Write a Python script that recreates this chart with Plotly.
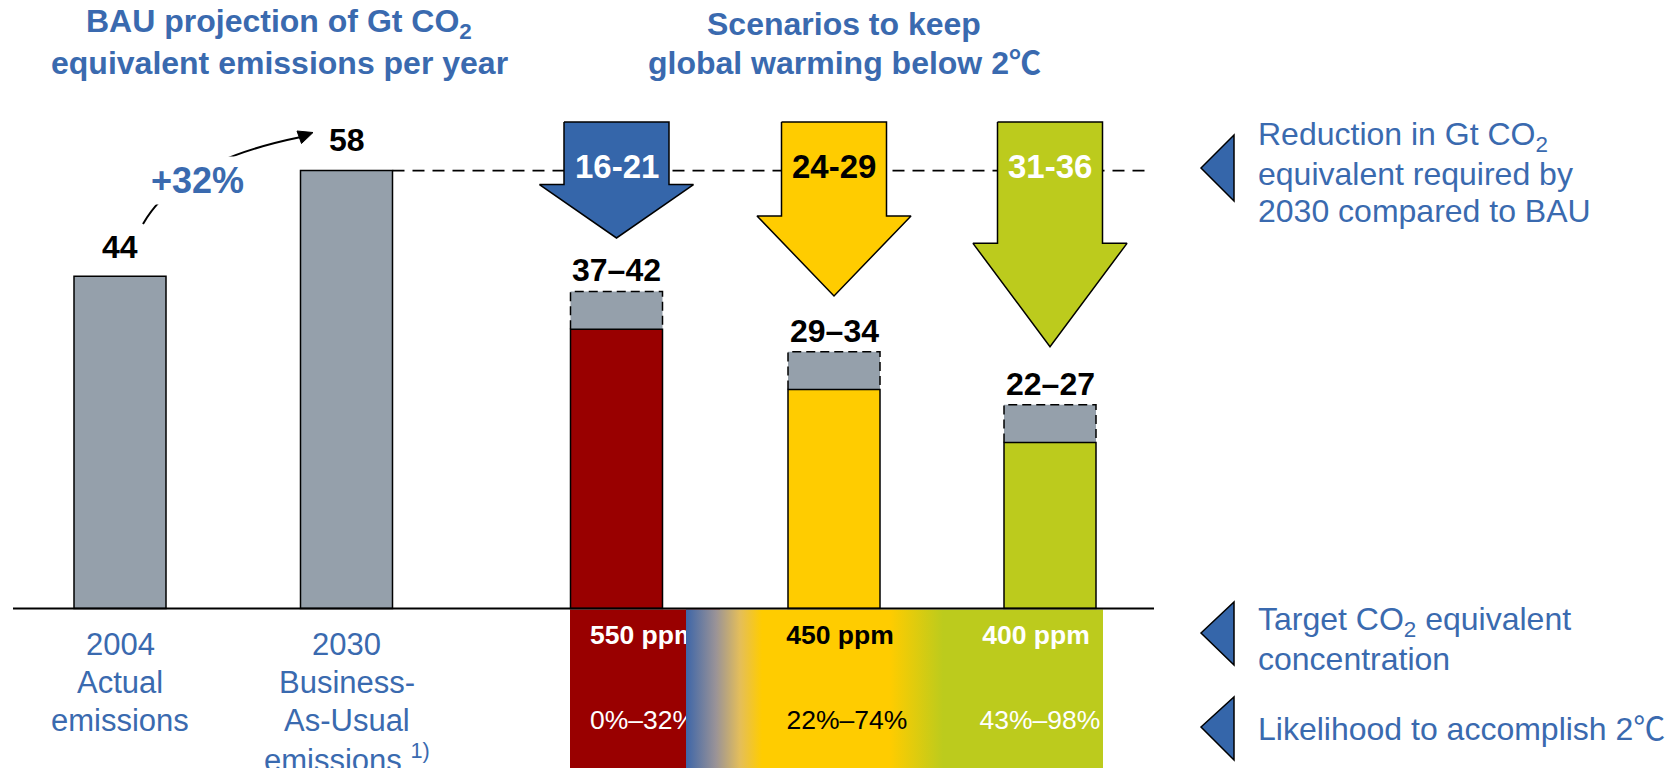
import plotly.graph_objects as go

# ---------------- data ----------------
bau_years = ["2004", "2030"]
bau_label_lines = [["2004", "Actual", "emissions"],
                   ["2030", "Business-", "As-Usual", "emissions <sup>1)</sup>"]]
bau_values = [44, 58]

scenario_ppm = ["550 ppm", "450 ppm", "400 ppm"]
scenario_low = [37, 29, 22]
scenario_high = [42, 34, 27]
likelihood = ["0%–32%", "22%–74%", "43%–98%"]

# ---------------- layout constants ----------------
W, H = 1668, 768
Y0, K = 608.5, 7.55          # baseline pixel row and pixels per Gt
BAR_X = [120, 346.5, 616.5, 834, 1050]
BAR_W = 92

GREY = "#95A0AB"
SCEN_COLORS = ["#990000", "#FFCC00", "#BCCB1D"]
ARROW_COLORS = ["#3566AA", "#FFCC00", "#BCCB1D"]
ARROW_TEXT = ["white", "black", "white"]
BAND_TEXT = ["white", "black", "white"]
BLUE_TXT = "#3A6AAF"
FONT = "Liberation Sans, Arial, Noto Sans CJK SC, sans-serif"


def yv(py):
    return (Y0 - py) / K


def yp(py):
    return 1 - py / H


fig = go.Figure()

# BAU bars
fig.add_bar(x=BAR_X[:2], y=bau_values, width=BAR_W,
            marker=dict(color=GREY, line=dict(color="black", width=1.5)),
            hoverinfo="skip")
# uncertainty range (grey) of scenarios
fig.add_bar(x=BAR_X[2:], y=[h - l for l, h in zip(scenario_low, scenario_high)],
            base=scenario_low, width=BAR_W,
            marker=dict(color=GREY, line=dict(width=0)), hoverinfo="skip")
# scenario bars
fig.add_bar(x=BAR_X[2:], y=scenario_low, width=BAR_W,
            marker=dict(color=SCEN_COLORS, line=dict(color="black", width=1.5)),
            hoverinfo="skip")

# dashed outline of grey ranges
dx, dy = [], []
for cx, lo, hi in zip(BAR_X[2:], scenario_low, scenario_high):
    x0, x1 = cx - BAR_W / 2, cx + BAR_W / 2
    dx += [x0, x0, x1, x1, None]
    dy += [lo, hi, hi, lo, None]
fig.add_scatter(x=dx, y=dy, mode="lines",
                line=dict(color="black", width=1.5, dash="9px,5px"), hoverinfo="skip")

# dashed BAU reference line
bau = bau_values[1]
fig.add_scatter(x=[BAR_X[1] + BAR_W / 2, 1148], y=[bau, bau], mode="lines",
                line=dict(color="black", width=1.8, dash="12px,8px"), hoverinfo="skip")

# block arrows for reductions
T = yv(122)
for i, (cx, hi, lo) in enumerate(zip(BAR_X[2:], scenario_high, scenario_low)):
    red_lo, red_hi = bau - hi, bau - lo
    L = red_lo * 0.96
    sh, hh = 52.5, 77
    yb = T - 0.54 * L
    xs = [cx - sh, cx + sh, cx + sh, cx + hh, cx, cx - hh, cx - sh, cx - sh]
    ys = [T, T, yb, yb, T - L, yb, yb, T]
    fig.add_scatter(x=xs, y=ys, mode="lines", fill="toself",
                    fillcolor=ARROW_COLORS[i], line=dict(color="black", width=1.5),
                    hoverinfo="skip")
    fig.add_annotation(x=cx, y=yp(167), xref="x", yref="paper",
                       text=f"<b>{red_lo}-{red_hi}</b>", showarrow=False,
                       font=dict(family=FONT, size=33, color=ARROW_TEXT[i]),
                       xanchor="center", yanchor="middle")

# bottom band: red block with its text, then gradient overlay
band_top, band_bot = yv(609.5), yv(800)
fig.add_scatter(x=[570, 720, 720, 570], y=[band_top, band_top, band_bot, band_bot],
                mode="lines", fill="toself", fillcolor=SCEN_COLORS[0],
                line=dict(width=0), hoverinfo="skip")
ROW1, ROW2 = yv(647 - 9.3), yv(732 - 9.3)
fig.add_scatter(x=[590, 590], y=[ROW1, ROW2], mode="text",
                text=[f"<b>{scenario_ppm[0]}</b>", likelihood[0]],
                textposition="middle right",
                textfont=dict(family=FONT, size=26.5, color=BAND_TEXT[0]), hoverinfo="skip")
g0, g1 = 686, 1103
stops = [(686, "#3E66A8"), (716, "#9A9397"), (740, "#E4BE5A"), (762, "#FFCC00"),
         (890, "#FFCC00"), (943, "#BCCB1D"), (1103, "#BCCB1D")]
fig.add_scatter(x=[g0, g1, g1, g0], y=[band_top, band_top, band_bot, band_bot],
                mode="lines", fill="toself",
                fillgradient=dict(type="horizontal", start=g0, stop=g1,
                                  colorscale=[[(p - g0) / (g1 - g0), c] for p, c in stops]),
                line=dict(width=0), hoverinfo="skip")
for i, (cxp, cxl) in enumerate([(840, 847), (1036, 1040)], start=1):
    fig.add_scatter(x=[cxp, cxl], y=[ROW1, ROW2], mode="text",
                    text=[f"<b>{scenario_ppm[i]}</b>", likelihood[i]],
                    textposition="middle center",
                    textfont=dict(family=FONT, size=26.5, color=BAND_TEXT[i]),
                    hoverinfo="skip")

# value labels
for cx, v, shift in zip(BAR_X[:2], bau_values, [29, 31]):
    fig.add_annotation(x=cx, y=v, text=f"<b>{v}</b>", showarrow=False,
                       yshift=shift, yanchor="middle",
                       font=dict(family=FONT, size=32, color="black"))
for cx, lo, hi in zip(BAR_X[2:], scenario_low, scenario_high):
    fig.add_annotation(x=cx, y=hi, text=f"<b>{lo}–{hi}</b>", showarrow=False,
                       yshift=21, yanchor="middle",
                       font=dict(family=FONT, size=32, color="black"))

# growth annotation with curved arrow
growth = round((bau_values[1] / bau_values[0] - 1) * 100)
shapes = [dict(type="path", xref="x", yref="paper",
               path=f"M 143,{yp(224)} Q 178,{yp(162)} 301,{yp(137)}",
               line=dict(color="black", width=2))]
# arrow head (tip, base corners)
shapes.append(dict(type="path", xref="x", yref="paper",
                   path=(f"M 313,{yp(132.5)} L 301.5,{yp(143.5)} "
                         f"L 297,{yp(131)} Z"),
                   fillcolor="black", line=dict(color="black", width=1)))
fig.add_annotation(x=197, y=yp(193 - 12.6), xref="x", yref="paper",
                   text=f"<b>+{growth}%</b>", showarrow=False, bgcolor="white",
                   xanchor="center", yanchor="middle", borderpad=3,
                   font=dict(family=FONT, size=36, color=BLUE_TXT))

# baseline
shapes.append(dict(type="line", xref="x", yref="y", x0=13, x1=1154, y0=0, y1=0,
                   line=dict(color="black", width=2)))

# legend triangles
for tip, top, bot in [(168, 135, 201), (633, 602, 665), (727, 697, 760)]:
    shapes.append(dict(type="path", xref="x", yref="paper",
                       path=f"M 1201,{yp(tip)} L 1234,{yp(top)} L 1234,{yp(bot)} Z",
                       fillcolor="#3566AA", line=dict(color="black", width=1.5)))


def text_line(x, baseline, txt, size=31, bold=False, color=BLUE_TXT, anchor="center"):
    t = f"<b>{txt}</b>" if bold else txt
    fig.add_annotation(x=x, y=yp(baseline - 0.35 * size), xref="x", yref="paper",
                       text=t, showarrow=False, xanchor=anchor, yanchor="middle",
                       font=dict(family=FONT, size=size, color=color))


# titles
text_line(279, 35, "BAU projection of Gt CO<sub>2</sub>", size=32, bold=True)
text_line(279, 74, "equivalent emissions per year", size=32, bold=True)
text_line(844, 35, "Scenarios to keep", size=32, bold=True)
text_line(844, 74, "global warming below 2℃", size=32, bold=True)

# x labels
for cx, lines in zip(BAR_X[:2], bau_label_lines):
    for j, ln in enumerate(lines):
        text_line(cx, 655 + 38 * j, ln)

# right-hand legend texts
for j, ln in enumerate(["Reduction in Gt CO<sub>2</sub>", "equivalent required by",
                        "2030 compared to BAU"]):
    text_line(1256, 148 + 37 * j, ln, size=32, anchor="left")
text_line(1256, 633, "Target CO<sub>2</sub> equivalent", size=32, anchor="left")
text_line(1256, 670, "concentration", size=32, anchor="left")
text_line(1256, 740, "Likelihood to accomplish 2℃", size=32, anchor="left")

fig.update_layout(
    width=W, height=H, margin=dict(l=0, r=0, t=0, b=0),
    paper_bgcolor="white", plot_bgcolor="white", showlegend=False,
    barmode="overlay", shapes=shapes,
    xaxis=dict(range=[0, W], visible=False, fixedrange=True),
    yaxis=dict(range=[yv(H), yv(0)], visible=False, fixedrange=True),
)
fig.write_html("out.html")
